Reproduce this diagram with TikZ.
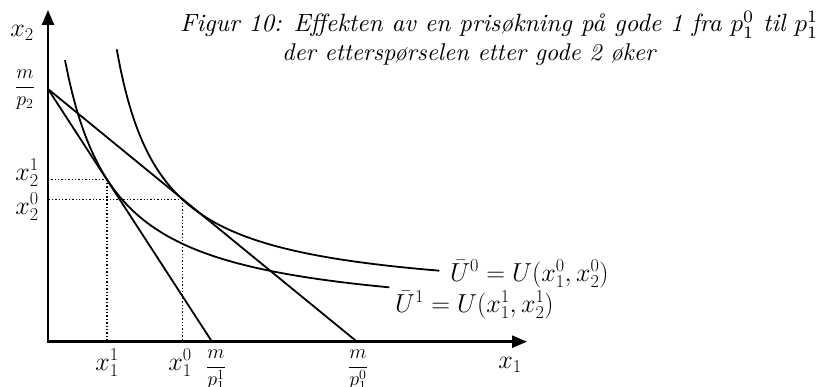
\RequirePackage{fix-cm}
\documentclass[tikz,border=0pt]{standalone}
\usetikzlibrary{arrows.meta}
\begin{document}
\begin{tikzpicture}[x=1pt,y=1pt,
  axis/.style={line width=2.6pt,line join=miter,{Triangle[length=15pt,width=12pt]}-{Triangle[length=15pt,width=12pt]}},
  curve/.style={line width=1.8pt},
  guide/.style={line width=1.4pt,dotted},
  lbl/.style={font=\fontsize{26}{30}\selectfont, inner sep=0pt},
  fraclbl/.style={font=\fontsize{20}{24}\selectfont, inner sep=0pt},
  ttl/.style={font=\itshape, inner sep=0pt, anchor=base west},
  ]
\useasboundingbox (0,0) rectangle (819,387);
% key points
\coordinate (O) at (48,45.3);
\coordinate (ytip) at (48,377);
\coordinate (xtip) at (527,45.3);
\coordinate (A) at (48,298);
\coordinate (B1) at (212,45.3);
\coordinate (B0) at (357,45.3);
\coordinate (T1) at (107,207.6);
\coordinate (T0) at (182.3,187.7);
% dotted guides
\draw[guide] (T1) -- (T1 |- O);
\draw[guide] (T1) -- (T1 -| O);
\draw[guide] (T0) -- (T0 |- O);
\draw[guide] (T0) -- (T0 -| O);
% budget lines
\draw[curve] (A) -- (B1);
\draw[curve] (A) -- (B0);
% indifference curves
\draw[curve] plot[domain=65:389.3, samples=90] (\x, {64.3+13254/(\x-14.5)});
\draw[curve] plot[domain=116.7:439.3, samples=90] (\x, {85.7+11239/(\x-72.1)});
% axes
\draw[axis] (ytip) -- (O) -- (xtip);
% labels
\node[lbl] (lx2) at (22,354) {$x_2$};
\node[fraclbl] (lmp2) at (25,297) {$\displaystyle\frac{m}{p_2}$};
\node[lbl] (lx21) at (27,214) {$x_2^1$};
\node[lbl] (lx20) at (27,180) {$x_2^0$};
\node[lbl] (lx11) at (107,24) {$x_1^1$};
\node[lbl] (lx10) at (180,24) {$x_1^0$};
\node[fraclbl] (lmp11) at (216,17) {$\displaystyle\frac{m}{p_1^1}$};
\node[fraclbl] (lmp10) at (358,17) {$\displaystyle\frac{m}{p_1^0}$};
\node[lbl] (lx1) at (510,22) {$x_1$};
\node[lbl, anchor=west] (lU0) at (450,113) {$\bar{U}^0=U(x_1^0,x_2^0)$};
\node[lbl, anchor=west] (lU1) at (395,82) {$\bar{U}^1=U(x_1^1,x_2^1)$};
% title
\node[ttl] (t1) at (180,355) {\resizebox{638pt}{!}{Figur 10: Effekten av en prisøkning på gode 1 fra $p_1^0$ til $p_1^1$}};
\node[ttl] (t2) at (282,326) {\resizebox{373pt}{!}{der etterspørselen etter gode 2 øker}};
\end{tikzpicture}
\end{document}
